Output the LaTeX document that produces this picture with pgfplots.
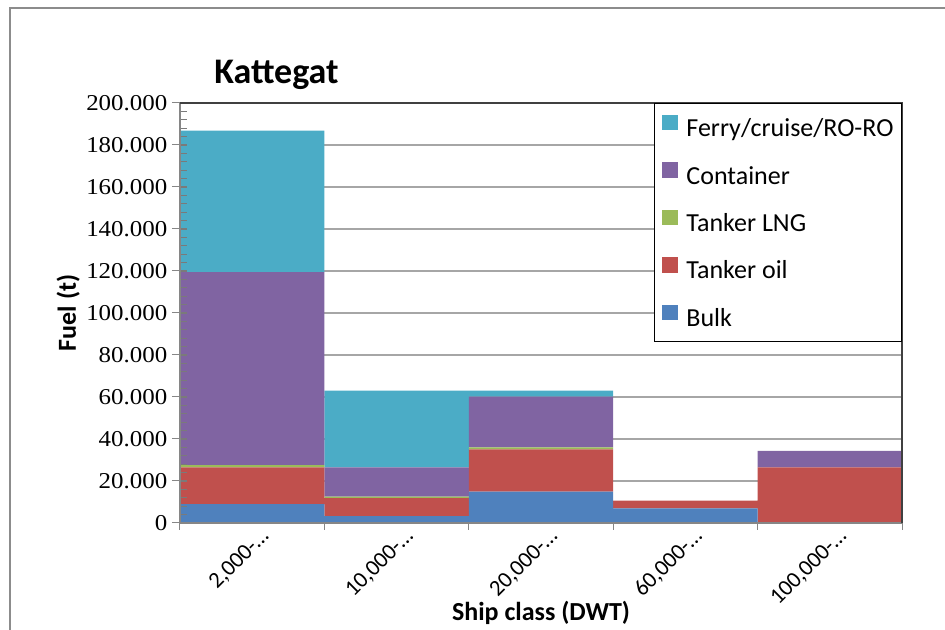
\documentclass[border=0pt]{standalone}
\usepackage{fontspec}
\setmainfont{Carlito}
\newfontfamily\numfont[FakeStretch=1.1]{Liberation Serif}
\usepackage{pgfplots}
\pgfplotsset{compat=1.18}
\definecolor{cBulk}{HTML}{4F81BD}
\definecolor{cOil}{HTML}{C0504D}
\definecolor{cLNG}{HTML}{9BBB59}
\definecolor{cCont}{HTML}{8064A2}
\definecolor{cFerry}{HTML}{4BACC6}
\definecolor{gridc}{HTML}{A6A6A6}
\definecolor{axc}{HTML}{868686}
\definecolor{tickc}{HTML}{7A7A7A}
\definecolor{frame}{HTML}{8C8C8C}
\definecolor{dark}{HTML}{404040}

\begin{document}
\begin{tikzpicture}
\begin{axis}[
  at={(0,0)}, anchor=south west,
  scale only axis, width=541.5pt, height=315pt,
  ybar stacked, bar width=1,
  xmin=-0.5, xmax=4.5, ymin=0, ymax=200000,
  axis line style={draw=none},
  tick align=outside,
  tick pos=left,
  major tick length=6pt,
  minor tick length=5.25pt,
  tick style={color=axc, line width=0.75pt},
  xtick={0,1,2,3,4},
  xticklabels={{2,000-…},{10,000-…},{20,000-…},{60,000-…},{100,000-…}},
  major x tick style={draw=none},
  minor xtick={-0.5,0.5,1.5,2.5,3.5,4.5},
  xticklabel style={font=\fontsize{17}{20}\selectfont, xshift=12.5pt, yshift=1pt, rotate=45, anchor=east},
  ytick={0,20000,...,200000},
  scaled y ticks=false,
  yticklabel style={font=\numfont\fontsize{17}{20}\selectfont,
    /pgf/number format/.cd, fixed, 1000 sep={.}, assume math mode=true},
  ymajorgrids,
  major grid style={color=gridc, line width=0.9pt},
  xlabel={Ship class (DWT)},
  ylabel={Fuel (t)},
  xlabel style={font=\bfseries\fontsize{19.5}{23}\selectfont, at={(axis description cs:0.5,-0.2143)}, anchor=center},
  ylabel style={font=\bfseries\fontsize{19.5}{23}\selectfont, at={(axis description cs:-0.155,0.5)}, anchor=center},
  title={Kattegat},
  title style={font=\bfseries\fontsize{27}{32}\selectfont, at={(axis description cs:0.041,1.048)}, anchor=west},
  reverse legend,
  legend cell align=left,
  legend image code/.code={\fill[#1] (0pt,-0.8pt) rectangle (11.5pt,10.8pt);},
  legend style={at={(1,1)}, anchor=north east, draw=black, line width=0.75pt,
    font=\fontsize{19.5}{23}\selectfont,
    inner xsep=6pt, inner ysep=8.5pt, row sep=16.3pt,
    nodes={inner sep=0pt, text height=14pt, text depth=3pt},
    /tikz/every odd column/.append style={column sep=6.5pt}},
  after end axis/.code={
    \pgfplotsinvokeforeach{4000,8000,12000,16000,20000,24000,28000,32000,36000,40000,44000,48000,52000,56000,60000,64000,68000,72000,76000,80000,84000,88000,92000,96000,100000,104000,108000,112000,116000,120000,124000,128000,132000,136000,140000,144000,148000,152000,156000,160000,164000,168000,172000,176000,180000,184000,188000,192000,196000}{
      \draw[color=tickc, line width=1pt] (axis cs:-0.5,##1) -- ++(5.5pt,0pt);
    }
    \draw[color=axc, line width=0.9pt] (rel axis cs:0,1) -- (rel axis cs:0,0) -- (rel axis cs:1,0);
    \draw[color=dark, line width=0.9pt] (rel axis cs:0,1) -- (rel axis cs:1,1) -- (rel axis cs:1,0);
  },
]
\addplot[fill=cBulk, draw=none] coordinates {(0,9000) (1,3300) (2,14900) (3,7000) (4,0)};
\addlegendentry{Bulk}
\addplot[fill=cOil, draw=none] coordinates {(0,17500) (1,8600) (2,20200) (3,3600) (4,26500)};
\addlegendentry{Tanker oil}
\addplot[fill=cLNG, draw=none] coordinates {(0,1000) (1,600) (2,900) (3,0) (4,0)};
\addlegendentry{Tanker LNG}
\addplot[fill=cCont, draw=none] coordinates {(0,92000) (1,14000) (2,24200) (3,0) (4,7900)};
\addlegendentry{Container}
\addplot[fill=cFerry, draw=none] coordinates {(0,67300) (1,36500) (2,2800) (3,0) (4,0)};
\addlegendentry{Ferry/cruise/RO-RO}
\end{axis}
\path (-135pt,-80.25pt) rectangle (573.75pt,392.25pt);
\begin{scope}
\clip (-135pt,-80.25pt) rectangle (573.75pt,392.25pt);
\draw[color=frame, line width=1.6pt] (-127.5pt,-90pt) -- (-127.5pt,386.25pt) -- (600pt,386.25pt);
\end{scope}
\end{tikzpicture}
\end{document}
